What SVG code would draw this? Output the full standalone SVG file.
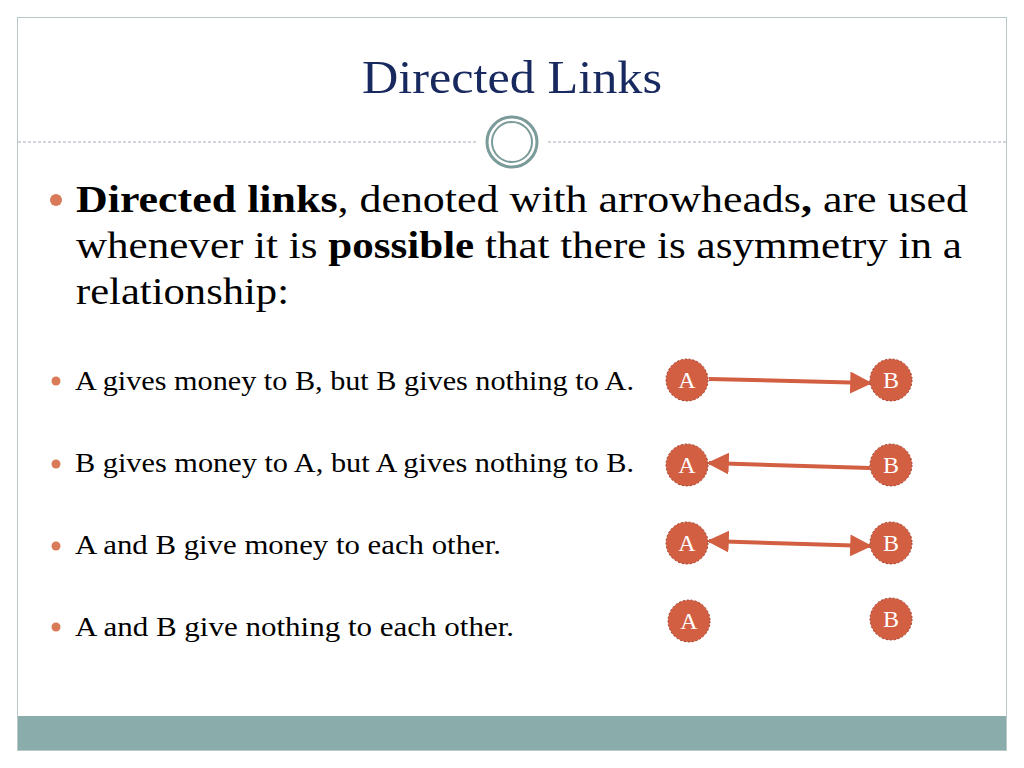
<svg xmlns="http://www.w3.org/2000/svg" width="1024" height="768" viewBox="0 0 1024 768">
<defs>
<style>
.t{font-family:"Liberation Serif","DejaVu Serif",serif;fill:#000}
.n circle{fill:#d35f43;stroke:#9e3c28;stroke-width:1;stroke-dasharray:2 2}
.n text{font-family:"Liberation Serif",serif;font-size:24px;fill:#fff;text-anchor:middle}
.b{fill:#d97b58}
.e{stroke:#d35f43;stroke-width:4;fill:none}
</style>
<marker id="ah" viewBox="0 0 10 10" refX="9" refY="5" markerWidth="5.500" markerHeight="5.500" orient="auto-start-reverse"><path d="M0,0L10,5L0,10z" fill="#d35f43"/></marker>
</defs>
<rect width="1024" height="768" fill="#fff"/>
<rect x="17.500" y="17.500" width="989" height="733" fill="none" stroke="#b8c8c8"/>
<rect x="18" y="716" width="988" height="34" fill="#8aacab"/>
<line x1="18" y1="142" x2="476" y2="142" stroke="#aab" stroke-dasharray="3 2"/>
<line x1="548" y1="142" x2="1006" y2="142" stroke="#aab" stroke-dasharray="3 2"/>
<circle cx="512" cy="142" r="25" fill="#fff" stroke="#7a9b99" stroke-width="3"/>
<circle cx="512" cy="142" r="20" fill="none" stroke="#7a9b99" stroke-width="2"/>
<text x="362" y="93" font-family="Liberation Serif,serif" font-size="46" fill="#17295e" textLength="300" lengthAdjust="spacingAndGlyphs">Directed Links</text>
<circle class="b" cx="56" cy="200" r="6"/>
<text class="t" font-size="37" x="76" y="212" textLength="892" lengthAdjust="spacingAndGlyphs"><tspan font-weight="bold">Directed links</tspan>, denoted with arrowheads<tspan font-weight="bold">,</tspan> are used</text>
<text class="t" font-size="37" x="76" y="258" textLength="886" lengthAdjust="spacingAndGlyphs">whenever it is <tspan font-weight="bold">possible</tspan> that there is asymmetry in a</text>
<text class="t" font-size="37" x="76" y="304" textLength="213" lengthAdjust="spacingAndGlyphs">relationship:</text>
<circle class="b" cx="56" cy="381" r="4.500"/>
<text class="t" font-size="27" x="75" y="390" textLength="559" lengthAdjust="spacingAndGlyphs">A gives money to B, but B gives nothing to A.</text>
<circle class="b" cx="56" cy="464" r="4.500"/>
<text class="t" font-size="27" x="75" y="472" textLength="559" lengthAdjust="spacingAndGlyphs">B gives money to A, but A gives nothing to B.</text>
<circle class="b" cx="56" cy="546" r="4.500"/>
<text class="t" font-size="27" x="75" y="554" textLength="426" lengthAdjust="spacingAndGlyphs">A and B give money to each other.</text>
<circle class="b" cx="56" cy="627" r="4.500"/>
<text class="t" font-size="27" x="75" y="636" textLength="439" lengthAdjust="spacingAndGlyphs">A and B give nothing to each other.</text>
<g id="edges">
<line class="e" x1="709" y1="379" x2="870" y2="383" marker-end="url(#ah)"/>
<line class="e" x1="870" y1="468" x2="709" y2="463" marker-end="url(#ah)"/>
<line class="e" x1="709" y1="541" x2="870" y2="546" marker-start="url(#ah)" marker-end="url(#ah)"/>
</g>
<g id="A1" class="n"><circle cx="687" cy="380" r="21"/><text x="687" y="388">A</text></g>
<g id="B1" class="n"><circle cx="891" cy="380" r="21"/><text x="891" y="388">B</text></g>
<g id="A2" class="n"><circle cx="687" cy="465" r="21"/><text x="687" y="473">A</text></g>
<g id="B2" class="n"><circle cx="891" cy="465" r="21"/><text x="891" y="473">B</text></g>
<g id="A3" class="n"><circle cx="687" cy="543" r="21"/><text x="687" y="551">A</text></g>
<g id="B3" class="n"><circle cx="891" cy="543" r="21"/><text x="891" y="551">B</text></g>
<g id="A4" class="n"><circle cx="689" cy="621" r="21"/><text x="689" y="629">A</text></g>
<g id="B4" class="n"><circle cx="891" cy="619" r="21"/><text x="891" y="627">B</text></g>
</svg>
